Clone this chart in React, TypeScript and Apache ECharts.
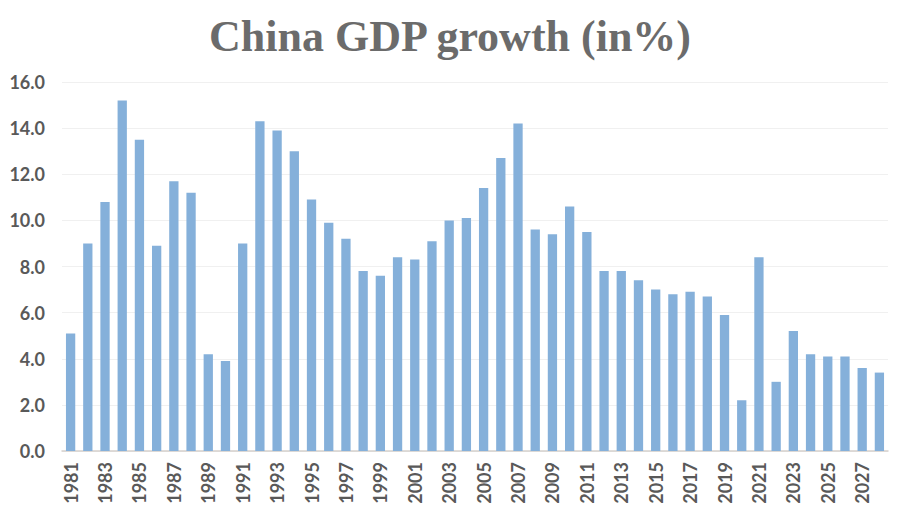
import React, { useEffect, useRef } from "react";
import * as echarts from "echarts";

const years: string[] = [
  "1981","1982","1983","1984","1985","1986","1987","1988","1989","1990",
  "1991","1992","1993","1994","1995","1996","1997","1998","1999","2000",
  "2001","2002","2003","2004","2005","2006","2007","2008","2009","2010",
  "2011","2012","2013","2014","2015","2016","2017","2018","2019","2020",
  "2021","2022","2023","2024","2025","2026","2027","2028",
];

const growth: number[] = [
  5.1, 9.0, 10.8, 15.2, 13.5, 8.9, 11.7, 11.2, 4.2, 3.9,
  9.0, 14.3, 13.9, 13.0, 10.9, 9.9, 9.2, 7.8, 7.6, 8.4,
  8.3, 9.1, 10.0, 10.1, 11.4, 12.7, 14.2, 9.6, 9.4, 10.6,
  9.5, 7.8, 7.8, 7.4, 7.0, 6.8, 6.9, 6.7, 5.9, 2.2,
  8.4, 3.0, 5.2, 4.2, 4.1, 4.1, 3.6, 3.4,
];

const yTicks = { min: 0, max: 16, interval: 2 };
const titleText = "China GDP growth (in%)";

export default function App() {
  const ref = useRef<HTMLDivElement>(null);
  useEffect(() => {
    if (!ref.current) return;
    const chart = echarts.init(ref.current, undefined, { renderer: "svg" });
    chart.setOption({
      animation: false,
      backgroundColor: "#ffffff",
      title: {
        text: titleText,
        left: "center",
        top: 9,
        textStyle: {
          fontFamily: "'Liberation Serif', serif",
          fontWeight: "bold",
          fontSize: 44,
          color: "#6b6b6b",
        },
      },
      grid: { left: 62, right: 12, top: 82, bottom: 62, containLabel: false },
      xAxis: {
        type: "category",
        data: years,
        axisLine: { lineStyle: { color: "#d5d0cc", width: 1.5 } },
        axisTick: { show: false },
        axisLabel: {
          rotate: 90,
          interval: 1,
          margin: 11,
          color: "#595959",
          fontWeight: "bold",
          fontSize: 18,
          fontFamily: "Lato, 'Noto Sans', sans-serif",
        },
      },
      yAxis: {
        type: "value",
        min: yTicks.min,
        max: yTicks.max,
        interval: yTicks.interval,
        axisLine: { show: false },
        axisTick: { show: false },
        splitLine: { lineStyle: { color: "#f0f0f0", width: 1 } },
        axisLabel: {
          formatter: (v: number) => v.toFixed(1),
          color: "#595959",
          fontWeight: "bold",
          fontSize: 18,
          margin: 17,
          fontFamily: "Lato, 'Noto Sans', sans-serif",
        },
      },
      series: [
        {
          type: "bar",
          data: growth,
          barWidth: "54%",
          itemStyle: { color: "#85b0da" },
        },
      ],
    });
    return () => chart.dispose();
  }, []);
  return (
    <div
      ref={ref}
      style={{ position: "absolute", left: 0, top: 0, width: 900, height: 513 }}
    />
  );
}
